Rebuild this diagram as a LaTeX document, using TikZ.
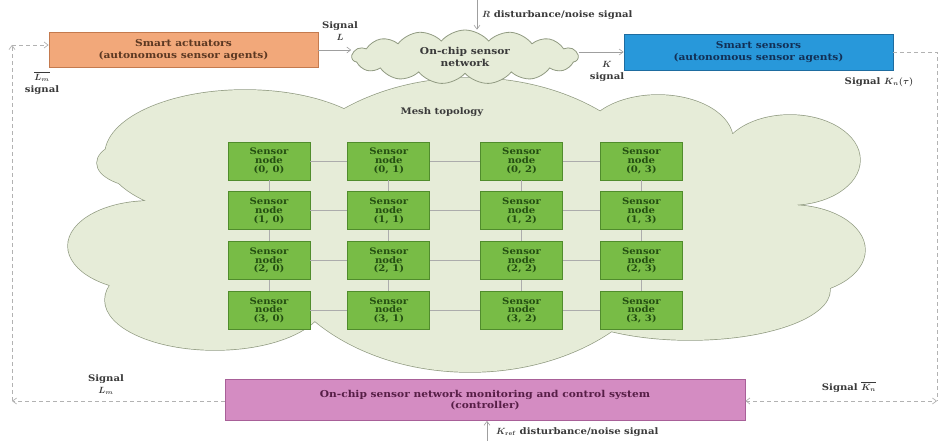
\documentclass[tikz,border=0pt]{standalone}
\usepackage{fontspec}
\setmainfont{DejaVu Serif}[FakeStretch=1.12]
\usepackage{amsmath,bm}
\usepackage{xcolor}
\usetikzlibrary{shapes.symbols, arrows.meta, positioning}

\definecolor{actfill}{RGB}{242,168,122}
\definecolor{actdraw}{RGB}{196,122,78}
\definecolor{acttext}{RGB}{92,56,34}
\definecolor{sensfill}{RGB}{40,152,218}
\definecolor{sensdraw}{RGB}{30,108,160}
\definecolor{senstext}{RGB}{18,48,86}
\definecolor{ctrlfill}{RGB}{212,140,194}
\definecolor{ctrldraw}{RGB}{168,96,152}
\definecolor{ctrltext}{RGB}{86,30,70}
\definecolor{cloudfill}{RGB}{230,236,216}
\definecolor{clouddraw}{RGB}{145,155,130}
\definecolor{meshfill}{RGB}{120,188,70}
\definecolor{meshdraw}{RGB}{80,140,44}
\definecolor{meshtext}{RGB}{36,78,18}
\definecolor{labeltext}{RGB}{58,58,58}

% outline of the big mesh cloud (union of lobes)
\newcommand{\meshcloud}{
  (470,225) ellipse [x radius=205, y radius=147]
  (245,155) ellipse [x radius=140, y radius=65]
  (150,163) ellipse [x radius=53,  y radius=25]
  (150,246) ellipse [x radius=82,  y radius=45]
  (215,300) ellipse [x radius=110, y radius=50]
  (690,290) ellipse [x radius=140, y radius=50]
  (658,140) ellipse [x radius=75,  y radius=45]
  (790,160) ellipse [x radius=70,  y radius=45]
  (790,250) ellipse [x radius=75,  y radius=45]
  (470,230) ellipse [x radius=330, y radius=100]}

\begin{document}
\begin{tikzpicture}[
  x=1pt, y=-1pt,
  box/.style={rectangle, draw, line width=0.8pt, align=center,
    minimum width=269pt, minimum height=35pt,
    font=\fontsize{9.5}{11.5}\selectfont\bfseries},
  sensor/.style={rectangle, draw=meshdraw, fill=meshfill, line width=0.8pt,
    minimum width=82pt, minimum height=38pt, align=center, inner sep=0pt,
    text=meshtext, font=\fontsize{9}{8.8}\selectfont\bfseries},
  lbl/.style={align=center, inner sep=0pt, text=labeltext,
    font=\fontsize{9}{12}\selectfont\bfseries\boldmath},
  mesh/.style={draw=gray!65, line width=0.8pt},
  arrow/.style={-{Straight Barb[length=4pt,width=6pt]}, draw=gray!75, line width=0.6pt},
  dasharrow/.style={-{Straight Barb[length=4pt,width=6pt]}, draw=gray!60,
    line width=0.7pt, dash pattern=on 4pt off 3pt}
]
\useasboundingbox (0,0) rectangle (938,441);

% big cloud
\draw[draw=clouddraw, fill=cloudfill, line width=1.4pt] \meshcloud;
\fill[cloudfill] \meshcloud;
\node (mesh) [lbl, text=labeltext] at (442,112) {Mesh topology};

\node (act)  [box, fill=actfill, draw=actdraw, text=acttext]
  at (183.5,50) {Smart actuators\\(autonomous sensor agents)};
\node (sens) [box, fill=sensfill, draw=sensdraw, text=senstext,
  minimum height=36pt] at (758.5,52) {Smart sensors\\(autonomous sensor agents)};
\node (chip) [cloud, cloud puffs=15, cloud puff arc=100, cloud ignores aspect,
  draw=clouddraw, fill=cloudfill, line width=0.8pt, minimum width=226pt,
  minimum height=54pt, align=center, text=labeltext,
  font=\fontsize{9.5}{11.5}\selectfont\bfseries]
  at (465,57) {On-chip sensor\\network};
\node (ctrl) [box, fill=ctrlfill, draw=ctrldraw, text=ctrltext,
  minimum width=520pt, minimum height=41pt]
  at (485,400) {On-chip sensor network monitoring and control system\\(controller)};

% sensor node grid
\node (n00) [sensor] at (269,161) {Sensor\\node\\(0, 0)};
\node (n01) [sensor, right=37pt of n00] {Sensor\\node\\(0, 1)};
\node (n02) [sensor, right=50pt of n01] {Sensor\\node\\(0, 2)};
\node (n03) [sensor, right=37pt of n02] {Sensor\\node\\(0, 3)};
\node (n10) [sensor, below=11pt of n00] {Sensor\\node\\(1, 0)};
\node (n11) [sensor, below=11pt of n01] {Sensor\\node\\(1, 1)};
\node (n12) [sensor, below=11pt of n02] {Sensor\\node\\(1, 2)};
\node (n13) [sensor, below=11pt of n03] {Sensor\\node\\(1, 3)};
\node (n20) [sensor, below=11pt of n10] {Sensor\\node\\(2, 0)};
\node (n21) [sensor, below=11pt of n11] {Sensor\\node\\(2, 1)};
\node (n22) [sensor, below=11pt of n12] {Sensor\\node\\(2, 2)};
\node (n23) [sensor, below=11pt of n13] {Sensor\\node\\(2, 3)};
\node (n30) [sensor, below=11pt of n20] {Sensor\\node\\(3, 0)};
\node (n31) [sensor, below=11pt of n21] {Sensor\\node\\(3, 1)};
\node (n32) [sensor, below=11pt of n22] {Sensor\\node\\(3, 2)};
\node (n33) [sensor, below=11pt of n23] {Sensor\\node\\(3, 3)};

\draw[mesh] (n00) -- (n01) (n01) -- (n02) (n02) -- (n03);
\draw[mesh] (n10) -- (n11) (n11) -- (n12) (n12) -- (n13);
\draw[mesh] (n20) -- (n21) (n21) -- (n22) (n22) -- (n23);
\draw[mesh] (n30) -- (n31) (n31) -- (n32) (n32) -- (n33);
\draw[mesh] (n00) -- (n10) (n10) -- (n20) (n20) -- (n30);
\draw[mesh] (n01) -- (n11) (n11) -- (n21) (n21) -- (n31);
\draw[mesh] (n02) -- (n12) (n12) -- (n22) (n22) -- (n32);
\draw[mesh] (n03) -- (n13) (n13) -- (n23) (n23) -- (n33);

% signal paths
\coordinate (rin) at (477,0);
\coordinate (kin) at (487,441);
\coordinate (tl) at (12,45);
\coordinate (bl) at (12,401);
\coordinate (tr) at (937,52);
\coordinate (br) at (937,401);

\draw[arrow] (act.east) -- (act.east -| chip.west);
\draw[arrow] (chip.east |- sens.west) -- (sens.west);
\draw[arrow] (rin) -- (rin |- chip.north);
\draw[arrow] (kin) -- (kin |- ctrl.south);

\draw[dasharrow, -] (sens.east) -- (tr) -- (br);
\draw[dasharrow, {Straight Barb[length=4pt,width=6pt]}-{Straight Barb[length=4pt,width=6pt]}]
  (ctrl.east |- br) -- (br);
\draw[dasharrow] (ctrl.west |- bl) -- (bl);
\draw[dasharrow] (bl) -- (tl);
\draw[dasharrow] (tl) -- (tl -| act.west);

\node (sigL)  [lbl] at (340,31)  {Signal\\$\bm{L}$};
\node (sigK)  [lbl] at (607,71)  {$\bm{K}$\\signal};
\node (sigKn) [lbl] at (879,82)  {Signal $\bm{K_n(\tau)}$};
\node (sigLm) [lbl] at (42,83)   {$\overline{\bm{L_m}}$\\signal};
\node (sigLb) [lbl] at (106,385) {Signal\\$\bm{L_m}$};
\node (sigKb) [lbl] at (849,387) {Signal $\overline{\bm{K_n}}$};
\node (rlab)  [lbl, anchor=west] at (482,15)
  {$\bm{R}$ disturbance/noise signal};
\node (klab)  [lbl, anchor=west] at (496,432)
  {$\bm{K}_{\mathbf{ref}}$ disturbance/noise signal};

\end{tikzpicture}
\end{document}
